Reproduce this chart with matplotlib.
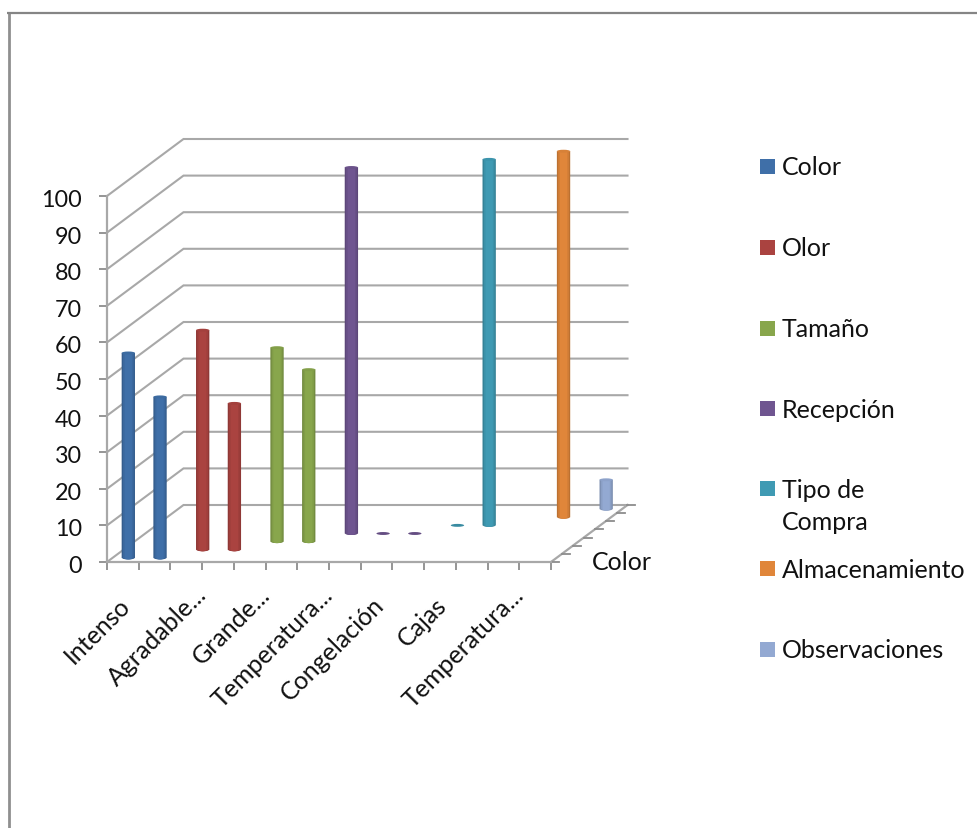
import matplotlib
matplotlib.use("Agg")
import numpy as np
import matplotlib.pyplot as plt
from matplotlib.lines import Line2D
from matplotlib.patches import Ellipse, Polygon, Rectangle
from matplotlib.transforms import ScaledTranslation

plt.rcParams['font.family'] = ['Lato', 'DejaVu Sans']

categories = ['Intenso', '', 'Agradable...', '', 'Grande...', '', 'Temperatura...', '',
	'Congelación', '', 'Cajas', '', 'Temperatura...', '']
y_ticks = [0, 10, 20, 30, 40, 50, 60, 70, 80, 90, 100]

series_names = ['Color', 'Olor', 'Tamaño', 'Recepción', 'Tipo de\nCompra', 'Almacenamiento', 'Observaciones']
series_colors = ['#3f6fa8', '#aa4340', '#88a64c', '#6f5590', '#3f9ab3', '#e0863a', '#93a9d2']

# None = no mark for that category, 0 = flat disc on the floor
color_vals = [56, 44, None, None, None, None, None, None, None, None, None, None, None, None]
olor_vals = [None, None, 60, 40, None, None, None, None, None, None, None, None, None, None]
tamano_vals = [None, None, None, None, 53, 47, None, None, None, None, None, None, None, None]
recepcion_vals = [None, None, None, None, None, None, 100, 0, 0, None, None, None, None, None]
tipo_vals = [None, None, None, None, None, None, None, None, None, 0, 100, None, None, None]
almacen_vals = [None, None, None, None, None, None, None, None, None, None, None, None, 100, None]
observ_vals = [None, None, None, None, None, None, None, None, None, None, None, None, None, 8]
all_vals = [color_vals, olor_vals, tamano_vals, recepcion_vals, tipo_vals, almacen_vals, observ_vals]

W, H = 977, 829
GRID = '#a8a8a8'
AXIS = '#8c8c8c'
TEXT = '#111111'
FONT = 18

fig = plt.figure(figsize=(W / 100, H / 100), dpi=100)
ax = fig.add_axes([107 / W, (H - 563) / H, 444 / W, 366 / H])
ax.set_xlim(0, 14)
ax.set_ylim(0, 100)
ax.patch.set_alpha(0)

# oblique depth: how far the back wall sits from the front plane, in data units
DEPTH_X = 76.5 / (444 / 14)
DEPTH_Y = 57 / (366 / 100)
N_DEPTH = len(series_names)


def project(x, d, v):
	return x + DEPTH_X * d / N_DEPTH, v + DEPTH_Y * d / N_DEPTH


def px_offset(dx, dy):
	return ScaledTranslation(dx / 100, dy / 100, fig.dpi_scale_trans)


def draw_walls():
	for v in y_ticks:
		x0, y0 = project(0, 0, v)
		x1, y1 = project(0, N_DEPTH, v)
		x2, y2 = project(14, N_DEPTH, v)
		ax.plot([x0, x1, x2], [y0, y1, y2], color=GRID, lw=1.5, clip_on=False, zorder=1,
			solid_joinstyle='miter')
	# floor edge and depth ticks
	x0, y0 = project(14, 0, 0)
	x1, y1 = project(14, N_DEPTH, 0)
	ax.plot([x0, x1], [y0, y1], color=GRID, lw=1.6, clip_on=False, zorder=1)
	for d in range(N_DEPTH + 1):
		x, y = project(14, d, 0)
		ax.plot([x, x + 0.25], [y, y], color=AXIS, lw=1.3, clip_on=False, zorder=2)


def shade(color, amount):
	rgb = np.array(matplotlib.colors.to_rgb(color))
	if amount < 0:
		return tuple(rgb * (1 + amount))
	return tuple(rgb + (1 - rgb) * amount)


def draw_cylinder(cat, d, value, color):
	w = 0.42
	cap = 0.4
	cx, base = project(cat + 0.5, d + 0.5, 0)
	z = 5 + N_DEPTH - d
	if value == 0:
		ax.add_patch(Ellipse((cx, base), w, cap * 2, color=shade(color, -0.1), lw=0,
			clip_on=False, zorder=z))
		return
	top = base + value
	# nested strips, outside in, so neighbours leave no seams
	for frac, tone in [(1.0, -0.16), (0.8, -0.06), (0.55, 0.0)]:
		half = w / 2 * frac
		pts = [(cx - half, top), (cx + half, top)]
		us = np.linspace(1, -1, 9)
		pts += [(cx + u * half, base - cap * np.sqrt(1 - u ** 2)) for u in us]
		ax.add_patch(Polygon(pts, closed=True, facecolor=shade(color, tone), edgecolor='none',
			lw=0, clip_on=False, zorder=z))
	ax.add_patch(Ellipse((cx, top), w, cap * 2, facecolor=shade(color, -0.04), edgecolor='none',
		clip_on=False, zorder=z + 0.5))


draw_walls()

for d in range(N_DEPTH - 1, -1, -1):
	for cat in range(len(categories)):
		if all_vals[d][cat] is not None:
			draw_cylinder(cat, d, all_vals[d][cat], series_colors[d])

# front axes
for side in ['top', 'right']:
	ax.spines[side].set_visible(False)
for side in ['left', 'bottom']:
	ax.spines[side].set_color(GRID)
	ax.spines[side].set_linewidth(1.6)
	ax.spines[side].set_zorder(3)

ax.set_yticks(y_ticks)
ax.tick_params(axis='y', length=5.8, width=1.3, color=AXIS, pad=12, labelsize=16.8, labelcolor=TEXT)
for lbl in ax.get_yticklabels():
	lbl.set_transform(lbl.get_transform() + px_offset(0, -1.5))
ax.set_xticks(np.arange(0, 15))
ax.set_xticklabels([])
ax.tick_params(axis='x', which='major', length=5.8, width=1.3, color=AXIS)
ax.set_xticks(np.arange(14) + 0.5, minor=True)
ax.set_xticklabels(categories, minor=True, rotation=45, ha='right', va='top',
	rotation_mode='anchor', fontsize=FONT, color=TEXT)
ax.tick_params(axis='x', which='minor', length=0, pad=20)
# the trailing dots hang past the tick anchor
for lbl in ax.get_xticklabels(minor=True):
	if lbl.get_text().endswith('...'):
		lbl.set_transform(lbl.get_transform() + px_offset(8, 8))
	else:
		lbl.set_transform(lbl.get_transform() + px_offset(-5, -2.5))

ax.text(16.25, 0.1, 'Color', ha='center', va='center', fontsize=FONT, color=TEXT, clip_on=False)

# legend, laid out by hand so the wrapped entry keeps the same row spacing
legend_y = [167, 248, 329, 409, 489, 569, 650]
for name, color, y in zip(series_names, series_colors, legend_y):
	fig.add_artist(Rectangle((760 / W, 1 - (y + 7.5) / H), 15 / W, 15 / H, transform=fig.transFigure,
		facecolor=color, edgecolor='none'))
	for i, line in enumerate(name.split('\n')):
		fig.text(782 / W, 1 - (y + 1 + i * 33) / H, line, ha='left', va='center', fontsize=FONT, color=TEXT)

# frame left over from the chart area: only top and left edges
fig.add_artist(Line2D([8.7 / W, 8.7 / W], [0, 1 - 13 / H], transform=fig.transFigure, color='#8f8f8f', lw=2,
	solid_capstyle='butt'))
fig.add_artist(Line2D([7.3 / W, 1], [1 - 14 / H, 1 - 14 / H], transform=fig.transFigure, color='#858585', lw=1.6,
	solid_capstyle='butt'))

fig.savefig('out.png', dpi=100)
